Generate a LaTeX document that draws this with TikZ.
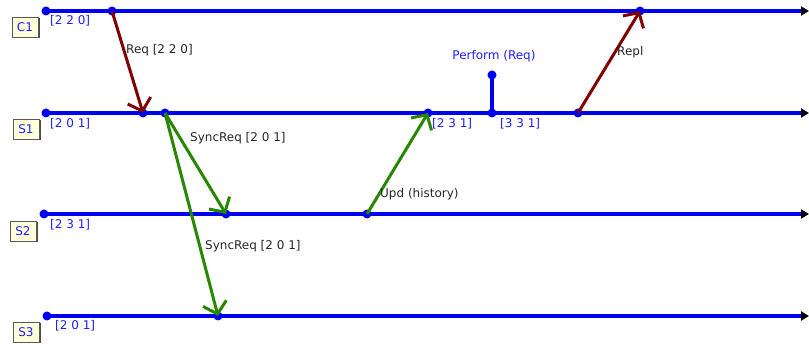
\documentclass[tikz,border=0pt]{standalone}
\usepackage{fontspec}
\setmainfont{DejaVu Sans}
\usetikzlibrary{arrows.meta}
\definecolor{lineblue}{RGB}{0,0,240}
\definecolor{txtblue}{RGB}{30,30,255}
\definecolor{msgred}{RGB}{128,0,0}
\definecolor{msggreen}{RGB}{40,135,0}
\definecolor{boxfill}{RGB}{255,255,220}
\tikzset{
  dot/.style={circle,fill=lineblue,inner sep=0pt,minimum size=9pt},
  timeline/.style={draw=lineblue,line width=3.5pt,-{Triangle[length=8pt,width=9pt,black]}},
  procbox/.style={draw=gray!70!black,fill=boxfill,text=txtblue,minimum width=26pt,minimum height=20pt,inner sep=0pt,font=\fontsize{12}{14}\selectfont},
  shadowbox/.style={fill=gray!60!black,minimum width=26pt,minimum height=20pt,inner sep=0pt},
  vlabel/.style={anchor=base west,text=txtblue,inner sep=0pt,font=\fontsize{12}{14}\selectfont},
  mlabel/.style={anchor=base west,text=black!85,inner sep=0pt,font=\fontsize{12}{14}\selectfont},
  redmsg/.style={draw=msgred,line width=3pt,-{Straight Barb[length=11pt,width=24pt]}},
  greenmsg/.style={draw=msggreen,line width=3pt,-{Straight Barb[length=11pt,width=24pt]}},
}
\begin{document}
\begin{tikzpicture}[x=1pt,y=-1pt]
\useasboundingbox (0,0) rectangle (809,344);
% process boxes
\foreach \n/\x/\y in {C1/25/27,S1/26/129,S2/23/231,S3/26/332}{
  \node[shadowbox] at (\x+1.5,\y+1.5) {};
}
\node[procbox] (bc1) at (25,27) {C1};
\node[procbox] (bs1) at (26,129) {S1};
\node[procbox] (bs2) at (23,231) {S2};
\node[procbox] (bs3) at (26,332) {S3};
% timeline ends
\coordinate (c1end) at (809,11);
\coordinate (s1end) at (809,113);
\coordinate (s2end) at (809,214);
\coordinate (s3end) at (809,316);
% dots
\node[dot] (c1s) at (46,11) {};
\node[dot] (s1s) at (46,113) {};
\node[dot] (s2s) at (44,214) {};
\node[dot] (s3s) at (47,316) {};
% timelines
\draw[timeline] (c1s.center) -- (c1end);
\draw[timeline] (s1s.center) -- (s1end);
\draw[timeline] (s2s.center) -- (s2end);
\draw[timeline] (s3s.center) -- (s3end);
% events
\node[dot] (c1a) at (112,11) {};
\node[dot] (c1b) at (640,11) {};
\node[dot] (s1a) at (143,113) {};
\node[dot] (s1b) at (165,113) {};
\node[dot] (s1c) at (428,113) {};
\node[dot] (s1d) at (492,113) {};
\node[dot] (s1e) at (578,113) {};
\node[dot] (perf) at (492,75) {};
\node[dot] (s2a) at (226,214) {};
\node[dot] (s2b) at (367,214) {};
\node[dot] (s3a) at (218,316) {};
\draw[draw=lineblue,line width=3.5pt] (s1d.center) -- (perf.center);
% messages
\draw[redmsg] (c1a.center) -- (s1a.center);
\draw[greenmsg] (s1b.center) -- (s2a.center);
\draw[greenmsg] (s1b.center) -- (s3a.center);
\draw[greenmsg] (s2b.center) -- (s1c.center);
\draw[redmsg] (s1e.center) -- (c1b.center);
% version labels
\node[vlabel] (v1) at (50,25) {[2 2 0]};
\node[vlabel] (v2) at (50,128) {[2 0 1]};
\node[vlabel] (v3) at (50,229) {[2 3 1]};
\node[vlabel] (v4) at (55,330) {[2 0 1]};
\node[vlabel] (v5) at (432,128) {[2 3 1]};
\node[vlabel] (v6) at (500,128) {[3 3 1]};
\node[vlabel,anchor=base] (pl) at (494,60) {Perform (Req)};
% message labels
\node[mlabel] (l1) at (126,54) {Req [2 2 0]};
\node[mlabel] (l2) at (190,142) {SyncReq [2 0 1]};
\node[mlabel] (l3) at (205,250) {SyncReq [2 0 1]};
\node[mlabel] (l4) at (380,198) {Upd (history)};
\node[mlabel] (l5) at (617,56) {Repl};
\end{tikzpicture}
\end{document}
